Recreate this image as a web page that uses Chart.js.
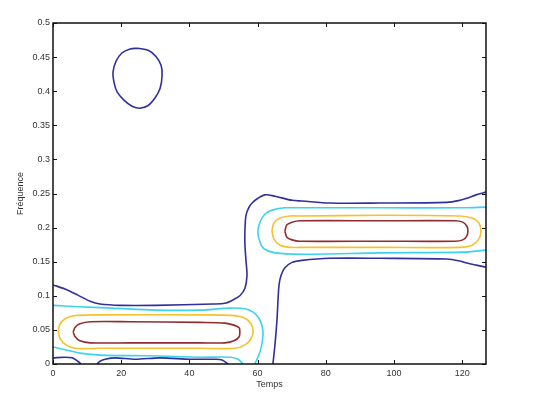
<!DOCTYPE html>
<html>
<head>
<meta charset="utf-8">
<script src="https://cdn.jsdelivr.net/npm/chart.js@4.4.1/dist/chart.umd.min.js"></script>
<style>
  html, body { margin: 0; padding: 0; background: #fff; }
  #wrap { width: 542px; height: 396px; position: relative; }
</style>
</head>
<body>
<div id="wrap"><canvas id="contourChart"></canvas></div>
<script>
// axes
const xTicks = [0, 20, 40, 60, 80, 100, 120];
const yTicks = [0, 0.05, 0.1, 0.15, 0.2, 0.25, 0.3, 0.35, 0.4, 0.45, 0.5];
const xMax = 127;
const yMax = 0.5;

// contour lines, [temps, fréquence]
// outer level (navy)
const navyUpper = [[0,0.116],[3.5,0.110],[7.3,0.101],[10.9,0.092],[13.8,0.088],[19.7,0.086],[29.9,0.086],
  [46.9,0.088],[50.4,0.089],[52.8,0.094],[54.8,0.100],[56.3,0.111],[56.9,0.130],[56.6,0.152],[56.3,0.174],
  [56.3,0.196],[56.6,0.218],[57.5,0.230],[58.4,0.236],[60.1,0.243],[62.2,0.248],[65.1,0.246],[70.1,0.240],
  [73.0,0.239],[81.2,0.236],[95.9,0.236],[115.5,0.237],[119.4,0.240],[121.4,0.243],[124.1,0.248],[127,0.252]];
const navyLower = [[64.5,0],[65.1,0.028],[65.7,0.065],[66.0,0.094],[66.3,0.116],[66.9,0.130],[68.0,0.141],
  [70.1,0.149],[73.0,0.152],[81.2,0.155],[95.9,0.155],[115.5,0.154],[119.4,0.151],[121.4,0.148],[124.1,0.145],[127,0.142]];
const navyCorner = [[0,0.009],[3.5,0.010],[5.6,0.009],[7.3,0.004],[8.2,0]];
const navyBottom = [[12.9,0],[13.8,0.004],[15.3,0.007],[18.2,0.009],[24.1,0.007],[31.4,0.009],[40.2,0.007],
  [47.5,0.007],[49.6,0.006],[51.3,0]];
const navyBlob = [[24.9,0.463],[27.9,0.460],[30.2,0.451],[31.7,0.438],[32.0,0.423],[31.4,0.404],[29.9,0.390],
  [27.9,0.379],[25.5,0.375],[23.2,0.378],[20.8,0.387],[18.8,0.399],[17.9,0.413],[17.6,0.428],[18.5,0.444],
  [20.2,0.456],[22.6,0.462],[24.9,0.463]];

// second level (cyan)
const cyanLeft = [[0,0.086],[7.3,0.084],[17.3,0.082],[29.9,0.079],[43.1,0.079],[51.9,0.082],[56.3,0.081],
  [58.7,0.076],[60.4,0.067],[61.3,0.056],[61.6,0.043],[61.0,0.023],[60.1,0.010],[59.2,0]];
const cyanLeftLow = [[0,0.025],[3.5,0.021],[7.9,0.016],[13.8,0.013],[28.5,0.012],[43.1,0.010],[51.9,0.010],
  [54.3,0.007],[55.7,0]];
const cyanRight = [[127,0.230],[120.2,0.229],[95.9,0.229],[73.0,0.229],[68.0,0.229],[64.5,0.226],[62.2,0.220],
  [60.7,0.208],[60.1,0.193],[60.7,0.179],[61.9,0.169],[65.1,0.163],[73.0,0.161],[95.9,0.163],[120.2,0.164],[127,0.167]];

// third level (gold)
const goldLeft = [[1.5,0.048],[2.1,0.059],[3.8,0.067],[6.5,0.071],[13.8,0.072],[43.1,0.072],[53.4,0.071],
  [56.3,0.067],[58.1,0.059],[58.7,0.048],[58.1,0.037],[56.3,0.028],[53.4,0.023],[43.1,0.023],[13.8,0.023],
  [6.5,0.023],[3.8,0.028],[2.1,0.037],[1.5,0.048]];
const goldRight = [[64.2,0.195],[64.8,0.207],[66.6,0.214],[69.5,0.217],[72.4,0.217],[95.9,0.218],[119.4,0.217],
  [122.9,0.214],[124.9,0.207],[125.5,0.195],[124.9,0.183],[122.9,0.174],[119.4,0.171],[95.9,0.171],[72.4,0.171],
  [69.5,0.171],[66.6,0.174],[64.8,0.183],[64.2,0.195]];

// inner level (maroon)
const redLeft = [[5.9,0.047],[6.5,0.054],[7.9,0.059],[10.9,0.062],[22.6,0.062],[43.1,0.061],[50.4,0.060],
  [53.1,0.057],[54.6,0.053],[54.8,0.047],[54.6,0.040],[53.1,0.034],[50.4,0.031],[43.1,0.031],[22.6,0.031],
  [10.9,0.031],[7.9,0.034],[6.5,0.040],[5.9,0.047]];
const redRight = [[68.0,0.195],[68.6,0.204],[70.1,0.208],[72.4,0.210],[95.9,0.210],[117.9,0.210],[120.2,0.208],
  [121.4,0.202],[121.7,0.195],[121.4,0.188],[120.2,0.182],[117.9,0.180],[95.9,0.180],[72.4,0.180],[70.1,0.182],
  [68.6,0.186],[68.0,0.195]];

const NAVY = '#30309c';
const CYAN = '#3dd3ee';
const GOLD = '#f6c12e';
const MAROON = '#8e2d2d';
const FONT = { family: "'Liberation Sans', Arial, sans-serif", size: 9 };
const TEXT = '#333';

function line(points, color) {
    return {
        data: points.map(p => ({ x: p[0], y: p[1] })),
        borderColor: color,
        borderWidth: 1.6,
        showLine: true,
        pointRadius: 0,
        tension: 0.3,
        fill: false
    };
}

// black box round the plot with inward ticks on every side
const framePlugin = {
    id: 'frame',
    afterDatasetsDraw(chart) {
        const { ctx, chartArea: a, scales } = chart;
        ctx.save();
        ctx.strokeStyle = '#111';
        ctx.lineWidth = 1.5;
        ctx.strokeRect(a.left, a.top, a.right - a.left, a.bottom - a.top);
        ctx.lineWidth = 1;
        ctx.beginPath();
        xTicks.forEach(v => {
            const px = Math.round(scales.x.getPixelForValue(v)) + 0.5;
            ctx.moveTo(px, a.bottom); ctx.lineTo(px, a.bottom - 4);
            ctx.moveTo(px, a.top); ctx.lineTo(px, a.top + 4);
        });
        yTicks.forEach(v => {
            const py = Math.round(scales.y.getPixelForValue(v)) + 0.5;
            ctx.moveTo(a.left, py); ctx.lineTo(a.left + 4, py);
            ctx.moveTo(a.right, py); ctx.lineTo(a.right - 4, py);
        });
        ctx.stroke();
        ctx.restore();
    }
};

const ctx = document.getElementById('contourChart').getContext('2d');
new Chart(ctx, {
    type: 'scatter',
    data: {
        datasets: [
            line(navyUpper, NAVY), line(navyLower, NAVY), line(navyCorner, NAVY),
            line(navyBottom, NAVY), line(navyBlob, NAVY),
            line(cyanLeft, CYAN), line(cyanLeftLow, CYAN), line(cyanRight, CYAN),
            line(goldLeft, GOLD), line(goldRight, GOLD),
            line(redLeft, MAROON), line(redRight, MAROON)
        ]
    },
    options: {
        responsive: true,
        maintainAspectRatio: false,
        animation: false,
        devicePixelRatio: 1,
        layout: { padding: { top: 23, right: 56, left: 5, bottom: 0 } },
        plugins: { legend: { display: false }, tooltip: { enabled: false } },
        scales: {
            x: {
                type: 'linear',
                min: 0,
                max: xMax,
                grid: { display: false, drawTicks: false },
                border: { display: false },
                afterBuildTicks: s => { s.ticks = xTicks.map(v => ({ value: v })); },
                afterFit: s => { s.height = 32; },
                ticks: { color: TEXT, font: FONT, padding: 4, maxRotation: 0 },
                title: { display: true, text: 'Temps', color: TEXT, font: FONT, padding: { top: 0, bottom: 6 } }
            },
            y: {
                type: 'linear',
                min: 0,
                max: yMax,
                grid: { display: false, drawTicks: false },
                border: { display: false },
                afterBuildTicks: s => { s.ticks = yTicks.map(v => ({ value: v })); },
                afterFit: s => { s.width = 48; },
                ticks: { color: TEXT, font: FONT, padding: 3, callback: v => String(+v.toFixed(2)) },
                title: { display: true, text: 'Fréquence', color: TEXT, font: FONT, padding: { top: 10, bottom: 0 } }
            }
        }
    },
    plugins: [framePlugin]
});
</script>
</body>
</html>
